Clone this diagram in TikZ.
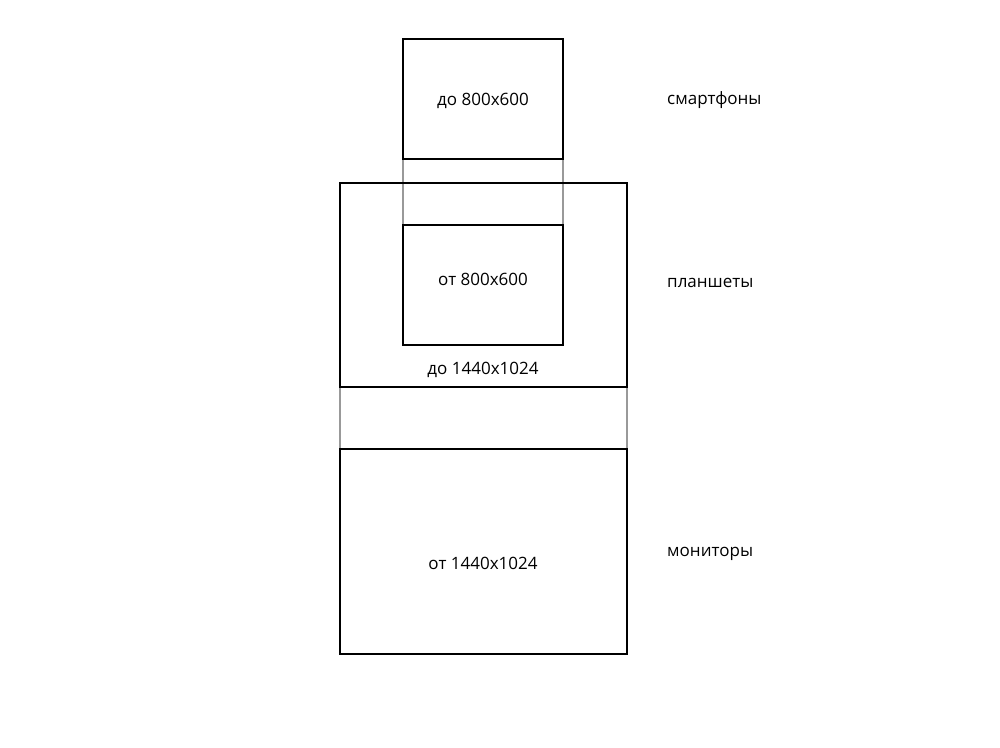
\documentclass[tikz,border=0pt]{standalone}
\usepackage{fontspec}
\setmainfont{Open Sans}
\begin{document}
\begin{tikzpicture}[x=1pt,y=-1pt,
  box/.style={draw=black,line width=1.2pt,rectangle,inner sep=0pt},
  guide/.style={draw=black!40,line width=1.1pt},
  lbl/.style={font=\fontsize{17}{20}\selectfont,inner sep=0pt},
  side/.style={font=\fontsize{17}{20}\selectfont,inner sep=0pt,anchor=west}]
\useasboundingbox[fill=white] (0,0) rectangle (1000,747);
% guides
\coordinate (g1a) at (403,159); \coordinate (g1b) at (403,225);
\coordinate (g2a) at (563,159); \coordinate (g2b) at (563,225);
\coordinate (g3a) at (340,387); \coordinate (g3b) at (340,449);
\coordinate (g4a) at (627,387); \coordinate (g4b) at (627,449);
\draw[guide] (g1a) -- (g1b);
\draw[guide] (g2a) -- (g2b);
\draw[guide] (g3a) -- (g3b);
\draw[guide] (g4a) -- (g4b);
% boxes
\node[box,minimum width=160pt,minimum height=120pt] (phone) at (483,99) {};
\node[box,minimum width=287pt,minimum height=204pt] (tablet) at (483.5,285) {};
\node[box,minimum width=160pt,minimum height=120pt] (tabin) at (483,285) {};
\node[box,minimum width=287pt,minimum height=205pt] (mon) at (483.5,551.5) {};
% texts
\node[lbl] (t1) at (483,101) {до 800x600};
\node[lbl] (t2) at (483,279) {от 800x600};
\node[lbl] (t3) at (483,370) {до 1440x1024};
\node[lbl] (t4) at (483,563) {от 1440x1024};
\node[side] (s1) at (667,100) {смартфоны};
\node[side] (s2) at (667,283) {планшеты};
\node[side] (s3) at (667,554) {мониторы};
\end{tikzpicture}
\end{document}
